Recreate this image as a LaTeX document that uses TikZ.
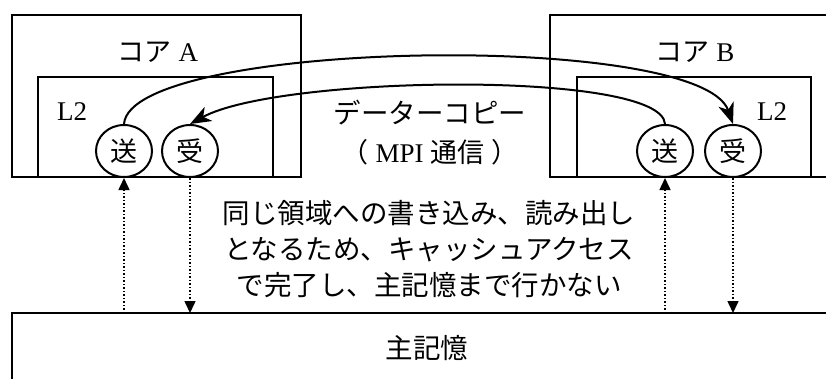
\documentclass[tikz,border=0pt]{standalone}
\usepackage{fontspec}
\setmainfont{Liberation Serif}
\newfontfamily\jp{Noto Sans CJK JP}
\usetikzlibrary{arrows.meta,shapes.geometric}
\begin{document}
\begin{tikzpicture}[x=1pt,y=-1pt,
  box/.style={draw,line width=2pt},
  ball/.style={draw,line width=2pt,ellipse,minimum width=56pt,minimum height=52pt,inner sep=0pt,font=\jp\fontsize{27}{27}\selectfont},
  lbl/.style={inner sep=0pt,font=\fontsize{27}{36}\selectfont},
  jlbl/.style={inner sep=0pt,align=center,font=\jp\fontsize{27.5}{36}\selectfont},
  copyarrow/.style={line width=2pt,-{Stealth[length=21pt,width=16pt,inset=6pt]}},
  memarrow/.style={line width=1.5pt,dotted,-{Triangle[length=12pt,width=11pt]}}]
\useasboundingbox (0,0) rectangle (826,378);
\fill[white] (0,0) rectangle (826,378);
% boxes
\draw[box] (12,15) rectangle (301,177);
\draw[box] (38,77) rectangle (273,177);
\draw[box] (550,15) rectangle (850,177);
\draw[box] (577,77) rectangle (811,177);
\draw[box] (12,313) rectangle (850,400);
% labels
\node[lbl] (coreA) at (158,52) {{\jp コア} A};
\node[lbl] (coreB) at (695,52) {{\jp コア} B};
\node[lbl] (l2A) at (72,112) {L2};
\node[lbl] (l2B) at (772,112) {L2};
\node[jlbl] (copy) at (430,113) {データーコピー};
\node[lbl] (mpi) at (430,152) {{\jp （}\ MPI {\jp 通信}\ {\jp ）}};
\node[jlbl] (note) at (429,249) {同じ領域への書き込み、読み出し\\となるため、キャッシュアクセス\\で完了し、主記憶まで行かない};
\node[jlbl] (mem) at (427,348) {主記憶};
% send/recv
\node[ball] (sendA) at (124,151) {送};
\node[ball] (recvA) at (190,151) {受};
\node[ball] (sendB) at (665,151) {送};
\node[ball] (recvB) at (733,151) {受};
% memory links
\coordinate (mA1) at (124,313);
\coordinate (mA2) at (190,313);
\coordinate (mB1) at (665,313);
\coordinate (mB2) at (733,313);
\draw[memarrow] (mA1) -- (sendA.south);
\draw[memarrow] (recvA.south) -- (mA2);
\draw[memarrow] (mB1) -- (sendB.south);
\draw[memarrow] (recvB.south) -- (mB2);
% copy arcs
\draw[copyarrow] (sendA.north) .. controls (130,40) and (700,30) .. (recvB.north);
\draw[copyarrow] (sendB.north) .. controls (662,70) and (280,75) .. (recvA.north);
\end{tikzpicture}
\end{document}
